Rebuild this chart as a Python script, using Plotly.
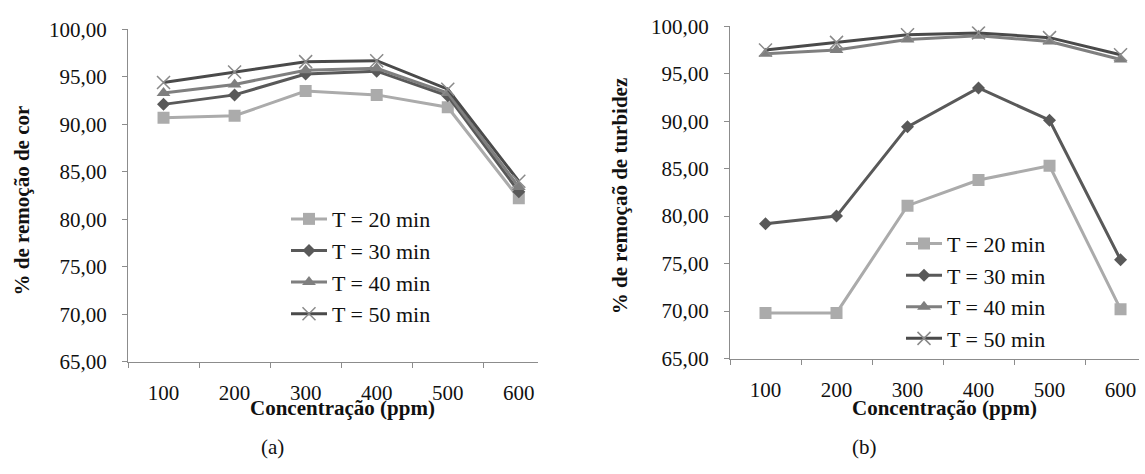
import plotly.graph_objects as go

# ---------------- data ----------------
categories = ["100", "200", "300", "400", "500", "600"]
series_names = ["T = 20 min", "T = 30 min", "T = 40 min", "T = 50 min"]

cor_t20 = [90.7, 90.9, 93.5, 93.1, 91.8, 82.2]
cor_t30 = [92.1, 93.1, 95.3, 95.6, 93.0, 82.9]
cor_t40 = [93.3, 94.2, 95.7, 95.9, 93.3, 83.4]
cor_t50 = [94.4, 95.5, 96.6, 96.7, 93.7, 84.0]

turb_t20 = [69.8, 69.8, 81.1, 83.8, 85.3, 70.2]
turb_t30 = [79.2, 80.0, 89.4, 93.5, 90.1, 75.4]
turb_t40 = [97.1, 97.5, 98.6, 99.0, 98.4, 96.5]
turb_t50 = [97.5, 98.3, 99.1, 99.3, 98.8, 97.0]

# ---------------- styles ----------------
W, H = 1145, 474
FONT = "Liberation Serif"
AXIS_COLOR = "#8C8C8C"
TEXT_COLOR = "#111111"

styles = [
    dict(line=dict(color="#ABABAB", width=3),
         marker=dict(symbol="square", size=12, color="#ABABAB")),
    dict(line=dict(color="#595959", width=3),
         marker=dict(symbol="diamond", size=10, color="#595959")),
    dict(line=dict(color="#7F7F7F", width=3),
         marker=dict(symbol="triangle-up", size=12, color="#7F7F7F")),
    dict(line=dict(color="#4A4A4A", width=3),
         marker=dict(symbol="x-thin", size=13, color="#8A8A8A",
                     line=dict(color="#8A8A8A", width=1.5))),
]

fig = go.Figure()

left_series = [cor_t20, cor_t30, cor_t40, cor_t50]
right_series = [turb_t20, turb_t30, turb_t40, turb_t50]

for i, (name, vals) in enumerate(zip(series_names, left_series)):
    fig.add_trace(go.Scatter(x=categories, y=vals, name=name, mode="lines+markers",
                             xaxis="x", yaxis="y", legend="legend",
                             legendgroup="a%d" % i, **styles[i]))
for i, (name, vals) in enumerate(zip(series_names, right_series)):
    fig.add_trace(go.Scatter(x=categories, y=vals, name=name, mode="lines+markers",
                             xaxis="x2", yaxis="y2", legend="legend2",
                             legendgroup="b%d" % i, **styles[i]))


def px_x(p):
    return p / W


def px_y(p):
    return 1 - p / H


def tfont(size=21):
    return dict(family=FONT, size=size, color=TEXT_COLOR)


xcommon = dict(type="category", tickson="boundaries", ticks="outside", ticklen=5,
               tickcolor=AXIS_COLOR, showline=True, linecolor=AXIS_COLOR, linewidth=1,
               showgrid=False, zeroline=False, tickfont=tfont(),
               ticklabelstandoff=12, fixedrange=True)
ycommon = dict(range=[65, 100], dtick=5, tickformat=".2f", ticks="outside", ticklen=5,
               tickcolor=AXIS_COLOR, showline=True, linecolor=AXIS_COLOR, linewidth=1,
               showgrid=False, zeroline=False, tickfont=tfont(),
               ticklabelstandoff=11, fixedrange=True)

fig.update_layout(
    width=W, height=H,
    margin=dict(l=0, r=0, t=0, b=0),
    paper_bgcolor="white", plot_bgcolor="white",
    separators=",.",
    showlegend=True,
    font=tfont(),
    xaxis=dict(domain=[px_x(128), px_x(538)], range=[-0.5, 5.27], anchor="y", **xcommon),
    yaxis=dict(domain=[px_y(368.3), px_y(18.3)], anchor="x", **ycommon),
    xaxis2=dict(domain=[px_x(730), px_x(1139)], range=[-0.5, 5.26], anchor="y2", **xcommon),
    yaxis2=dict(domain=[px_y(365), px_y(15)], anchor="x2", **ycommon),
    legend=dict(x=px_x(286), y=px_y(196), xanchor="left", yanchor="top",
                bgcolor="rgba(0,0,0,0)", font=tfont(22), itemwidth=36,
                tracegroupgap=0, itemclick=False, itemdoubleclick=False),
    legend2=dict(x=px_x(901), y=px_y(222), xanchor="left", yanchor="top",
                 bgcolor="rgba(0,0,0,0)", font=tfont(22), itemwidth=36,
                 tracegroupgap=0, itemclick=False, itemdoubleclick=False),
)

annotations = [
    dict(text="<b>% de remoção de cor</b>", x=px_x(21.5), y=px_y(199), textangle=-90),
    dict(text="<b>% de remoçaõ de turbidez</b>", x=px_x(620), y=px_y(194), textangle=-90),
    dict(text="<b>Concentração (ppm)</b>", x=px_x(342), y=px_y(417)),
    dict(text="<b>Concentração (ppm)</b>", x=px_x(944), y=px_y(417)),
    dict(text="(a)", x=px_x(272), y=px_y(458)),
    dict(text="(b)", x=px_x(864), y=px_y(458)),
]
for a in annotations:
    fig.add_annotation(xref="paper", yref="paper", showarrow=False,
                       xanchor="center", yanchor="middle", font=tfont(), **a)

fig.write_html("out.html", config={"displayModeBar": False})
